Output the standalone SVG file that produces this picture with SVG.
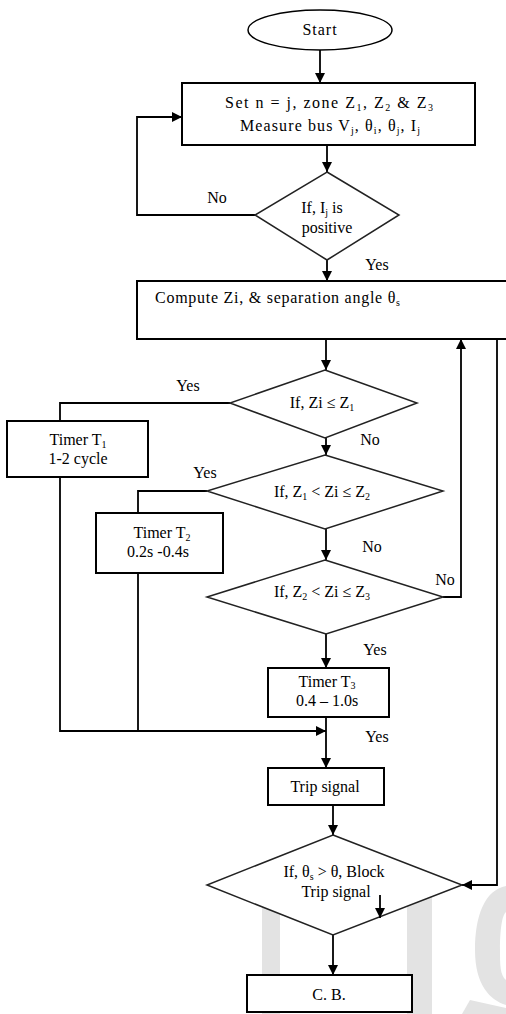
<svg xmlns="http://www.w3.org/2000/svg" width="506" height="1014" viewBox="0 0 506 1014">
<defs>
<marker id="ah" markerUnits="userSpaceOnUse" markerWidth="10" markerHeight="10" refX="10" refY="5" orient="auto">
<path d="M0,0 L10,5 L0,10 z" fill="#000"/>
</marker>
<style>
.box{fill:#fff;stroke:#000;stroke-width:2}
.dia{fill:#fff;stroke:#222;stroke-width:1.5}
.ln{fill:none;stroke:#000;stroke-width:1.8}
.t{font-family:"Liberation Serif","Times New Roman",serif;font-size:16px;fill:#000;text-anchor:middle}
.l{text-anchor:start}
.sub{font-size:10px}
.wm{fill:#e3e3e3}
</style>
</defs>
<rect width="506" height="1014" fill="#fff"/>
<g id="watermark">
<rect class="wm" x="262" y="873" width="18" height="141"/>
<rect class="wm" x="407" y="875" width="25" height="139"/>
<path class="wm" d="M506,886 C485,890 475,915 475,950 C475,985 490,1000 506,1005 L506,980 C500,975 500,965 500,950 C500,930 502,915 506,912 z"/>
<path class="wm" d="M462,1014 L470,1000 L506,1008 L506,1014 z"/>
</g>
<g id="connectors">
<line class="ln" x1="320" y1="50" x2="320" y2="83" marker-end="url(#ah)"/>
<line class="ln" x1="327" y1="145" x2="327" y2="172" marker-end="url(#ah)"/>
<polyline class="ln" points="255,215 137,215 137,117 182,117" marker-end="url(#ah)"/>
<line class="ln" x1="327" y1="260" x2="327" y2="281" marker-end="url(#ah)"/>
<line class="ln" x1="326" y1="339" x2="326" y2="370" marker-end="url(#ah)"/>
<polyline class="ln" points="230,403 60,403 60,421"/>
<line class="ln" x1="326" y1="438" x2="326" y2="455" marker-end="url(#ah)"/>
<polyline class="ln" points="207,491 138,491 138,513"/>
<line class="ln" x1="326" y1="529" x2="326" y2="560" marker-end="url(#ah)"/>
<polyline class="ln" points="443,597 461,597 461,339" marker-end="url(#ah)"/>
<line class="ln" x1="326" y1="634" x2="326" y2="668" marker-end="url(#ah)"/>
<polyline class="ln" points="60,477 60,731 326,731" marker-end="url(#ah)"/>
<line class="ln" x1="138" y1="573" x2="138" y2="731"/>
<line class="ln" x1="326" y1="717" x2="326" y2="768" marker-end="url(#ah)"/>
<line class="ln" x1="333" y1="805" x2="333" y2="835" marker-end="url(#ah)"/>
<polyline class="ln" points="497,339 497,885 462,885" marker-end="url(#ah)"/>
<line class="ln" x1="333" y1="935" x2="333" y2="975" marker-end="url(#ah)"/>
</g>
<g id="start">
<ellipse class="box" cx="320" cy="30" rx="72" ry="20" style="stroke-width:1.5"/>
<text class="t" x="320" y="35" style="letter-spacing:1px">Start</text>
</g>
<g id="set">
<rect class="box" x="182" y="83" width="293" height="62"/>
<text class="t" x="329" y="108" textLength="208" lengthAdjust="spacing">Set  n = j, zone Z<tspan class="sub" dy="3">1</tspan><tspan dy="-3">, Z</tspan><tspan class="sub" dy="3">2</tspan><tspan dy="-3"> &amp; Z</tspan><tspan class="sub" dy="3">3</tspan></text>
<text class="t" x="330" y="131" textLength="180" lengthAdjust="spacing">Measure bus V<tspan class="sub" dy="3">j</tspan><tspan dy="-3">, θ</tspan><tspan class="sub" dy="3">i</tspan><tspan dy="-3">, θ</tspan><tspan class="sub" dy="3">j</tspan><tspan dy="-3">, I</tspan><tspan class="sub" dy="3">j</tspan></text>
</g>
<g id="d1">
<polygon class="dia" points="327,172 399,215 327,260 255,215"/>
<text class="t" x="322" y="213">If, I<tspan class="sub" dy="3">j</tspan><tspan dy="-3"> is</tspan></text>
<text class="t" x="327" y="233">positive</text>
</g>
<g id="compute">
<rect class="box" x="137" y="281" width="375" height="58"/>
<text class="t l" x="155" y="303" textLength="245" lengthAdjust="spacing">Compute Zi, &amp; separation angle θ<tspan class="sub" dy="3">s</tspan></text>
</g>
<g id="d2">
<polygon class="dia" points="325,370 417,403 325,438 230,403"/>
<text class="t" x="322" y="408">If, Zi ≤ Z<tspan class="sub" dy="3">1</tspan></text>
</g>
<g id="t1">
<rect class="box" x="7" y="421" width="141" height="56"/>
<text class="t" x="78" y="445">Timer T<tspan class="sub" dy="3">1</tspan></text>
<text class="t" x="78" y="464">1-2 cycle</text>
</g>
<g id="d3">
<polygon class="dia" points="325,455 443,491 325,529 207,491"/>
<text class="t" x="322" y="497">If, Z<tspan class="sub" dy="3">1</tspan><tspan dy="-3"> &lt; Zi ≤ Z</tspan><tspan class="sub" dy="3">2</tspan></text>
</g>
<g id="t2">
<rect class="box" x="96" y="513" width="127" height="60"/>
<text class="t" x="162" y="538">Timer T<tspan class="sub" dy="3">2</tspan></text>
<text class="t" x="158" y="557">0.2s -0.4s</text>
</g>
<g id="d4">
<polygon class="dia" points="325,560 443,597 326,634 207,597"/>
<text class="t" x="322" y="597">If, Z<tspan class="sub" dy="3">2</tspan><tspan dy="-3"> &lt; Zi ≤ Z</tspan><tspan class="sub" dy="3">3</tspan></text>
</g>
<g id="t3">
<rect class="box" x="268" y="668" width="121" height="49"/>
<text class="t" x="327" y="687">Timer T<tspan class="sub" dy="2">3</tspan></text>
<text class="t" x="327" y="706">0.4 – 1.0s</text>
</g>
<g id="trip">
<rect class="box" x="268" y="768" width="116" height="37"/>
<text class="t" x="325" y="792">Trip signal</text>
</g>
<g id="d5">
<polygon class="dia" points="333,835 462,885 333,935 207,885"/>
<text class="t" x="334" y="877">If, θ<tspan class="sub" dy="3">s</tspan><tspan dy="-3"> &gt; θ, Block</tspan></text>
<text class="t" x="336" y="897">Trip signal</text>
<line class="ln" x1="380" y1="895" x2="380" y2="918" marker-end="url(#ah)"/>
</g>
<g id="cb">
<rect class="box" x="247" y="975" width="165" height="37"/>
<text class="t" x="329" y="1000">C. B.</text>
</g>
<g id="labels">
<text class="t" x="217" y="203">No</text>
<text class="t" x="377" y="270">Yes</text>
<text class="t" x="188" y="391">Yes</text>
<text class="t" x="370" y="445">No</text>
<text class="t" x="205" y="478">Yes</text>
<text class="t" x="372" y="552">No</text>
<text class="t" x="445" y="585">No</text>
<text class="t" x="375" y="655">Yes</text>
<text class="t" x="377" y="742">Yes</text>
</g>
</svg>
